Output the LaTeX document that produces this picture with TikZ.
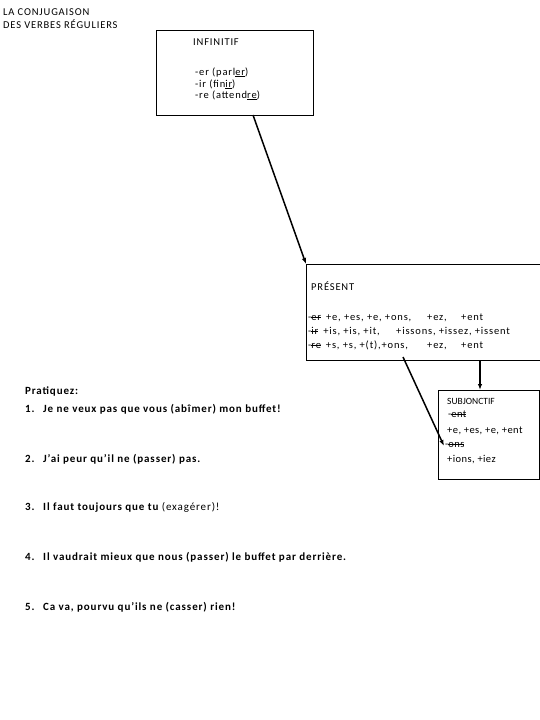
\documentclass[tikz,border=0pt]{standalone}
\usepackage{fontspec}
\setmainfont{Carlito}
\newfontfamily\boxfont[LetterSpace=8]{Carlito}
\newfontfamily\subfont[LetterSpace=4]{Carlito}
\newfontfamily\pracfont[LetterSpace=8]{Carlito}
\usetikzlibrary{arrows.meta}
\newcommand\mystrk[1]{\leavevmode\setbox0\hbox{#1}\rlap{\rule[0.22em]{\wd0}{0.45pt}}\box0}
\begin{document}
\begin{tikzpicture}[x=1pt,y=-1pt,
  box/.style={draw, line width=0.9pt, inner sep=0pt, anchor=north west},
  txt/.style={anchor=base west, inner sep=0pt, font=\boxfont\fontsize{10.5}{12}\selectfont},
  stxt/.style={anchor=base west, inner sep=0pt, font=\subfont\fontsize{10.5}{12}\selectfont},
  stitle/.style={anchor=base west, inner sep=0pt, font=\fontsize{9.5}{12}\selectfont},
  prac/.style={anchor=base west, inner sep=0pt, font=\pracfont\fontsize{11}{13}\selectfont\bfseries},
  conn/.style={line width=1.5pt, -{Latex[length=6pt,width=4.5pt]}}]
\useasboundingbox (0,0) rectangle (540,720);
\fill[white] (0,0) rectangle (540,720);
% title
\node[txt] (t1) at (3,16) {LA CONJUGAISON};
\node[txt] (t2) at (3,28) {DES VERBES RÉGULIERS};
% boxes
\node[box, minimum width=157pt, minimum height=85pt] (inf) at (156,30) {};
\node[box, minimum width=260pt, minimum height=96pt] (pres) at (306,264) {};
\node[box, minimum width=101pt, minimum height=89pt] (subj) at (438,390) {};
% infinitif text
\node[txt] (inft) at (193,45) {INFINITIF};
\node[txt] (inf1) at (195,75) {-er (parl\underline{er})};
\node[txt] (inf2) at (195,87) {-ir (fin\underline{ir})};
\node[txt] (inf3) at (195,98) {-re (attend\underline{re})};
% present text
\node[txt] (prt) at (311,290) {PRÉSENT};
\node[txt] (r1a) at (308,320) {-\mystrk{er}\, +e, +es, +e, +ons,};
\node[txt] (r1b) at (427,320) {+ez,};
\node[txt] (r1c) at (461,320) {+ent};
\node[txt] (r2a) at (308,334) {-\mystrk{ir}\, +is, +is, +it,};
\node[txt] (r2b) at (396,334) {+issons, +issez, +issent};
\node[txt] (r3a) at (308,348) {-\mystrk{re}\, +s, +s, +(t),+ons,};
\node[txt] (r3b) at (427,348) {+ez,};
\node[txt] (r3c) at (461,348) {+ent};
% subjonctif text
\node[stitle] (sjt) at (447,404) {SUBJONCTIF};
\node[stxt] (sj1) at (448,417) {-\mystrk{ent}};
\node[stxt] (sj2) at (447,433) {+e, +es, +e, +ent};
\node[stxt] (sj3) at (445,447) {-\mystrk{ons}};
\node[stxt] (sj4) at (447,462) {+ions, +iez};
% practice
\node[prac] (pq) at (25,394) {Pratiquez:};
\node[prac] (n1) at (25,412) {1.};
\node[prac] (s1) at (43,412) {Je ne veux pas que vous (abîmer) mon buffet!};
\node[prac] (n2) at (25,462) {2.};
\node[prac] (s2) at (43,462) {J’ai peur qu’il ne (passer) pas.};
\node[prac] (n3) at (25,510) {3.};
\node[prac] (s3) at (43,510) {Il faut toujours que tu \mdseries(exagérer)!};
\node[prac] (n4) at (25,560) {4.};
\node[prac] (s4) at (43,560) {Il vaudrait mieux que nous (passer) le buffet par derrière.};
\node[prac] (n5) at (25,610) {5.};
\node[prac] (s5) at (43,610) {Ca va, pourvu qu’ils ne (casser) rien!};
% connectors
\coordinate (a1s) at (253,115);
\draw[conn] (a1s) -- (pres.north west);
\coordinate (vx) at (480,0);
\draw[conn] (pres.south -| vx) -- (subj.north -| vx);
\coordinate (ds) at (403,357);
\coordinate (de) at (444,446);
\draw[conn] (ds) -- (de);
\end{tikzpicture}
\end{document}
